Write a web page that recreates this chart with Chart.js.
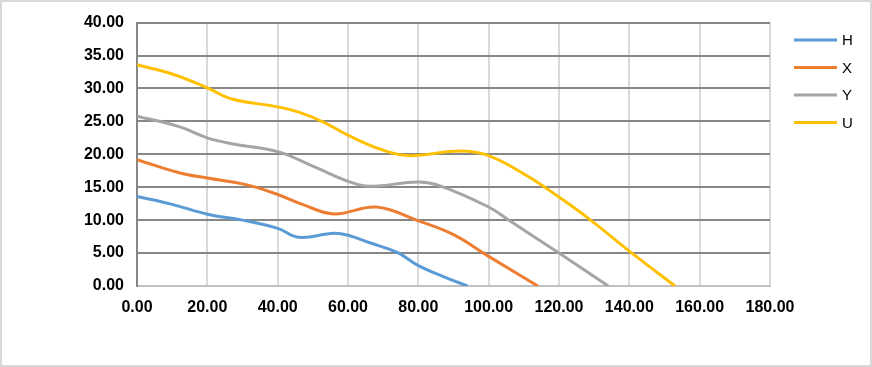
<!DOCTYPE html>
<html>
<head>
<meta charset="utf-8">
<script src="https://cdn.jsdelivr.net/npm/chart.js@4.4.1/dist/chart.umd.min.js"></script>
<style>
  html, body { margin: 0; padding: 0; background: #fff; }
  canvas { display: block; }
</style>
</head>
<body>
<canvas id="chart" width="872" height="367"></canvas>
<script>
// Series (x, y pairs per curve)
const hX = [0, 10, 20, 30, 40, 46, 56, 60, 66, 74, 80, 88, 94];
const hY = [13.6, 12.4, 10.9, 10.0, 8.75, 7.4, 8.0, 7.7, 6.6, 5.1, 3.1, 1.25, 0];
const xX = [0, 12, 20, 31, 40, 47, 56, 68, 80, 90, 100, 114];
const xY = [19.2, 17.2, 16.4, 15.4, 13.9, 12.4, 10.95, 12.0, 9.9, 7.8, 4.5, 0];
const yX = [0, 12, 20, 27, 40, 50, 60, 66, 80, 86, 100, 106, 120, 134];
const yY = [25.8, 24.2, 22.5, 21.6, 20.4, 18.2, 15.9, 15.15, 15.8, 15.25, 12.0, 9.9, 5.0, 0];
const uX = [0, 10, 20, 27, 40, 46, 53, 60, 69, 77, 92, 100, 111, 120, 129, 140, 153];
const uY = [33.6, 32.2, 30.1, 28.4, 27.2, 26.4, 24.9, 22.9, 20.8, 19.8, 20.5, 19.8, 16.7, 13.5, 10.0, 5.3, 0];

const seriesNames = ['H', 'X', 'Y', 'U'];
const seriesColors = ['#5B9BD5', '#ED7D31', '#A5A5A5', '#FFC000'];

function pts(xs, ys) {
  return xs.map((x, i) => ({ x, y: ys[i] }));
}

const tickFont = { family: 'Liberation Sans', size: 16, weight: 'bold' };

// white background + thin frame round the whole chart
const frame = {
  id: 'frame',
  beforeDraw(chart) {
    const { ctx, width, height } = chart;
    ctx.save();
    ctx.fillStyle = '#fff';
    ctx.fillRect(0, 0, width, height);
    ctx.restore();
  },
  afterDraw(chart) {
    const { ctx, width, height } = chart;
    ctx.save();
    ctx.strokeStyle = '#d9d9d9';
    ctx.lineWidth = 2;
    ctx.strokeRect(1, 1, width - 2, height - 2);
    ctx.restore();
  },
};

// legend drawn at the right like the reference (line + label)
const sideLegend = {
  id: 'sideLegend',
  afterDraw(chart) {
    const { ctx } = chart;
    ctx.save();
    chart.data.datasets.forEach((d, i) => {
      const y = 40 + i * 27.5;
      ctx.strokeStyle = d.borderColor;
      ctx.lineWidth = 3;
      ctx.beginPath();
      ctx.moveTo(794, y);
      ctx.lineTo(837, y);
      ctx.stroke();
      ctx.fillStyle = '#000';
      ctx.font = '15px "Liberation Sans"';
      ctx.textBaseline = 'middle';
      ctx.textAlign = 'left';
      ctx.fillText(d.label, 842, y + 1);
    });
    ctx.restore();
  },
};

const datasets = [pts(hX, hY), pts(xX, xY), pts(yX, yY), pts(uX, uY)].map((data, i) => ({
  label: seriesNames[i],
  data,
  borderColor: seriesColors[i],
  backgroundColor: seriesColors[i],
  borderWidth: 3,
  pointRadius: 0,
  showLine: true,
  tension: 0.4,
  fill: false,
}));

new Chart(document.getElementById('chart'), {
  type: 'scatter',
  data: { datasets },
  options: {
    responsive: false,
    animation: false,
    layout: { padding: { top: 20, right: 102, left: 0, bottom: 0 } },
    plugins: { legend: { display: false }, tooltip: { enabled: false } },
    scales: {
      x: {
        type: 'linear', min: 0, max: 180,
        afterFit: (s) => { s.height = 81; },
        ticks: { stepSize: 20, color: '#000', font: tickFont, padding: 12, callback: (v) => v.toFixed(2) },
        grid: {
          drawTicks: false, lineWidth: 2,
          color: (c) => (c.tick && c.tick.value === 0 ? 'rgba(0,0,0,0)' : '#d9d9d9'),
        },
        border: { display: true, color: '#c0c0c0', width: 2 },
      },
      y: {
        min: 0, max: 40,
        afterFit: (s) => { s.width = 137; },
        ticks: { stepSize: 5, color: '#000', font: tickFont, padding: 13, callback: (v) => v.toFixed(2) },
        grid: {
          drawTicks: false, lineWidth: 2,
          color: (c) => (c.tick && c.tick.value === 0 ? '#c0c0c0' : '#878787'),
        },
        border: { display: true, color: '#878787', width: 2 },
      },
    },
  },
  plugins: [frame, sideLegend],
});
</script>
</body>
</html>
